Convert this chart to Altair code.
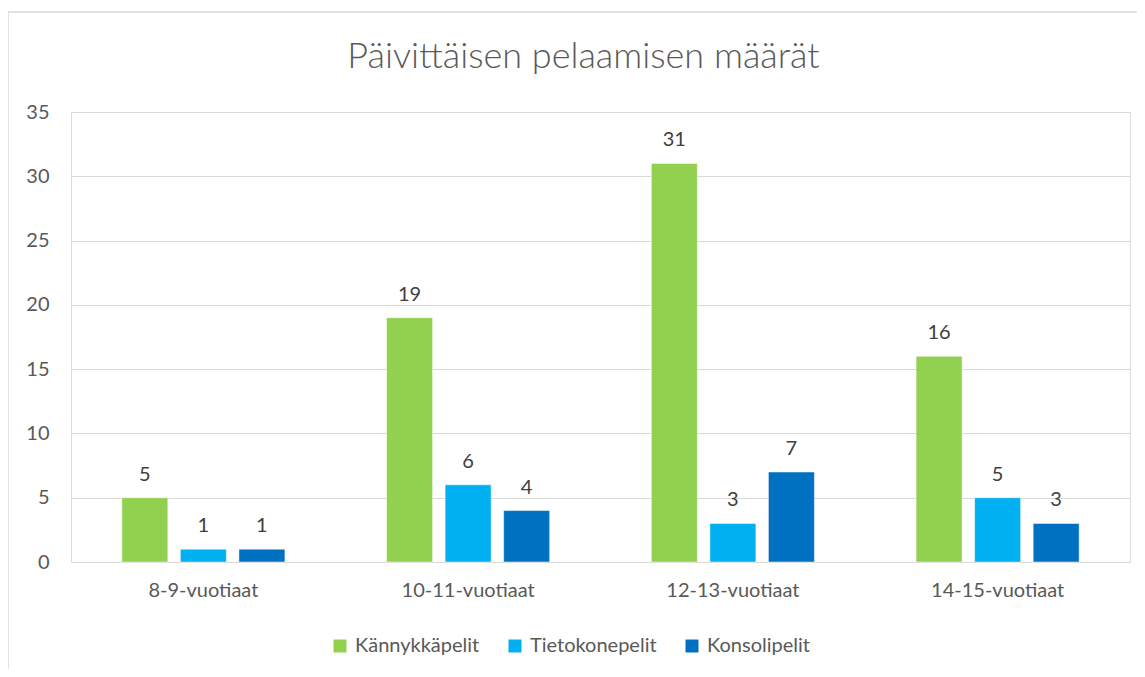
import altair as alt
import pandas as pd

categories = ["8-9-vuotiaat", "10-11-vuotiaat", "12-13-vuotiaat", "14-15-vuotiaat"]
series = ["Kännykkäpelit", "Tietokonepelit", "Konsolipelit"]
kannykka = [5, 19, 31, 16]
tietokone = [1, 6, 3, 5]
konsoli = [1, 4, 7, 3]
colors = ["#92D050", "#00B0F0", "#0070C0"]

rows = []
for s, vals in zip(series, [kannykka, tietokone, konsoli]):
    for c, v in zip(categories, vals):
        rows.append({"Ikä": c, "Sarja": s, "Määrä": v})
df = pd.DataFrame(rows)

FONT = "Lato"
TXT = "#595959"
FS = 20

x = alt.X("Ikä:N", sort=categories, title=None,
          scale=alt.Scale(paddingInner=0.384, paddingOuter=0.192),
          axis=alt.Axis(labelAngle=0, labelFontSize=FS, labelColor=TXT, labelFont=FONT,
                        labelPadding=18, ticks=False, domainColor="#D9D9D9", domainWidth=1))
xo = alt.XOffset("Sarja:N", sort=series, scale=alt.Scale(paddingInner=0.214, paddingOuter=0))
y = alt.Y("Määrä:Q", title=None,
          scale=alt.Scale(domain=[0, 35], nice=False),
          axis=alt.Axis(values=list(range(0, 36, 5)), labelFontSize=FS, labelColor=TXT,
                        labelFont=FONT, labelPadding=22, ticks=False, domain=False,
                        gridColor="#D9D9D9", gridWidth=1))
color = alt.Color("Sarja:N", sort=series,
                  scale=alt.Scale(domain=series, range=colors),
                  legend=alt.Legend(title=None, orient="none", direction="horizontal",
                                    legendX=259, legendY=524, symbolType="square",
                                    symbolSize=169, symbolStrokeWidth=0,
                                    labelFontSize=FS, labelColor=TXT, labelFont=FONT,
                                    columnPadding=25, labelOffset=5))

base = alt.Chart(df)
bars = base.mark_bar(stroke="white", strokeWidth=0.5).encode(x=x, xOffset=xo, y=y, color=color)
labels = base.mark_text(baseline="bottom", dy=-13, fontSize=FS, color="#404040", font=FONT).encode(
    x=x, xOffset=xo, y=y, text="Määrä:Q")
frame = alt.Chart(pd.DataFrame({"a": [0]})).mark_rect(
    filled=False, fillOpacity=0, stroke="#D9D9D9", strokeWidth=1.5).encode(
    x=alt.value(-63), x2=alt.value(1090), y=alt.value(-100), y2=alt.value(700))

chart = alt.layer(frame, bars, labels).properties(
    width=1059, height=450,
    title=alt.Title("Päivittäisen pelaamisen määrät", fontSize=36, fontWeight=300, font=FONT,
                    color=TXT, anchor="middle", dx=-17, offset=-65),
    autosize=alt.AutoSizeParams(type="none"),
    padding={"left": 63, "top": 104, "right": 7, "bottom": 107},
).configure_view(stroke=None).configure(background="white")

chart.save("out.html", embed_options={"renderer": "svg", "actions": False})
